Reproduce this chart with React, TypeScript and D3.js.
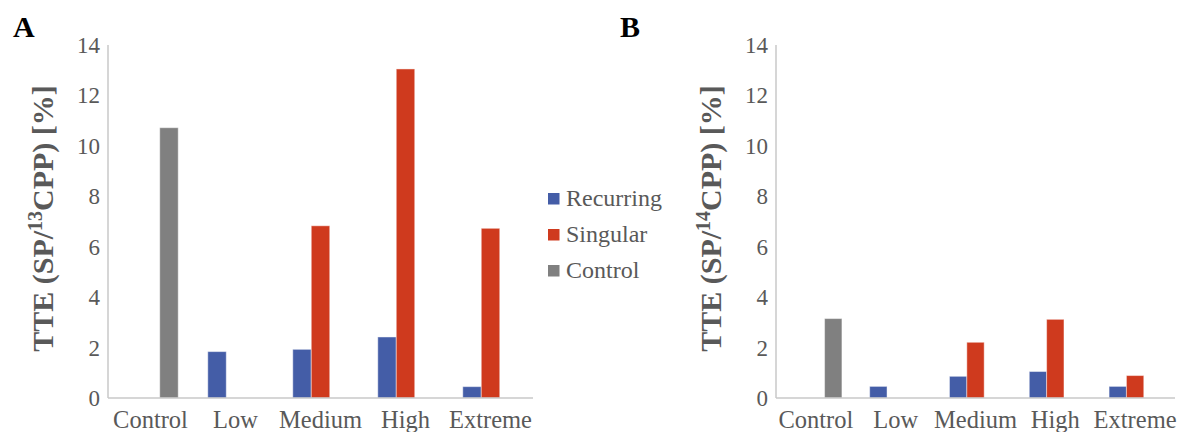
import React, { useEffect, useState } from "react";
import * as d3 from "d3";

// Treatment groups along the x axis
const categories = ["Control", "Low", "Medium", "High", "Extreme"];
const seriesNames = ["Recurring", "Singular", "Control"];
const seriesColors = ["#445DA7", "#CF3A1E", "#808080"];
const yTicks = [0, 2, 4, 6, 8, 10, 12, 14];

// Panel A: TTE (SP/13CPP) [%]
const recurringA: (number | null)[] = [null, 1.84, 1.93, 2.42, 0.45];
const singularA: (number | null)[] = [null, null, 6.83, 13.05, 6.73];
const controlA: (number | null)[] = [10.72, null, null, null, null];

// Panel B: TTE (SP/14CPP) [%]
const recurringB: (number | null)[] = [null, 0.46, 0.86, 1.05, 0.46];
const singularB: (number | null)[] = [null, null, 2.21, 3.12, 0.89];
const controlB: (number | null)[] = [3.15, null, null, null, null];

const TEXT = "#595959";
const AXIS = "#C9C9C9";
const serif = { fontFamily: "Liberation Serif" };

type PanelProps = {
  letter: string;
  letterX: number;
  x0: number;
  x1: number;
  iso: string;
  values: (number | null)[][];
};

function Panel({ letter, letterX, x0, x1, iso, values }: PanelProps) {
  const y = d3.scaleLinear().domain([0, 14]).range([398, 45]);
  const x = d3.scaleBand<string>().domain(categories).range([x0, x1]).padding(0);
  const inner = d3
    .scaleBand<string>()
    .domain(seriesNames)
    .range([0, x.bandwidth()])
    .paddingInner(0)
    .paddingOuter(0.8);

  return (
    <g>
      <text x={letterX} y={37} style={serif} fontWeight="bold" fontSize={30} fill="#000">
        {letter}
      </text>
      {/* y axis */}
      <line x1={x0} x2={x0} y1={y(14)} y2={y(0)} stroke={AXIS} strokeWidth={1.5} />
      {yTicks.map((t) => (
        <text key={t} x={x0 - 8} y={y(t) + 8} textAnchor="end" style={serif} fontSize={23} fill={TEXT}>
          {t}
        </text>
      ))}
      {/* axis title */}
      <text
        transform={`translate(${x0 - 55},${y(7) - 3}) rotate(-90)`}
        textAnchor="middle"
        style={serif}
        fontWeight="bold"
        fontSize={30}
        fill={TEXT}
      >
        TTE (SP/
        <tspan fontSize={20} dy={-11}>
          {iso}
        </tspan>
        <tspan dy={11}>CPP) [%]</tspan>
      </text>
      {/* bars */}
      {values.map((vals, si) =>
        vals.map((v, ci) =>
          v == null ? null : (
            <rect
              key={`${si}-${ci}`}
              x={(x(categories[ci]) as number) + (inner(seriesNames[si]) as number)}
              y={y(v)}
              width={inner.bandwidth()}
              height={y(0) - y(v)}
              fill={seriesColors[si]}
              stroke="#fff"
              strokeOpacity={0.45}
              strokeWidth={1}
            />
          )
        )
      )}
      {/* x axis */}
      <line x1={x0} x2={x1} y1={y(0)} y2={y(0)} stroke={AXIS} strokeWidth={1.5} />
      {categories.map((c) => (
        <text
          key={c}
          x={(x(c) as number) + x.bandwidth() / 2}
          y={428}
          textAnchor="middle"
          style={serif}
          fontSize={24.5}
          fill={TEXT}
        >
          {c}
        </text>
      ))}
    </g>
  );
}

export default function App() {
  // Re-mount the chart once the serif faces are loaded so text is laid out with them
  const [fontKey, setFontKey] = useState(0);
  useEffect(() => {
    const fonts = (document as any).fonts;
    if (!fonts || !fonts.load) return;
    Promise.all([
      fonts.load('24px "Liberation Serif"'),
      fonts.load('bold 30px "Liberation Serif"'),
    ])
      .then(() => setFontKey(1))
      .catch(() => {});
  }, []);

  return (
    <svg
      key={fontKey}
      width={1183}
      height={432}
      style={{ position: "absolute", left: 0, top: 0, background: "#fff", fontFamily: "Liberation Serif" }}
    >
      <Panel
        letter="A"
        letterX={13}
        x0={108}
        x1={533}
        iso="13"
        values={[recurringA, singularA, controlA]}
      />
      <Panel
        letter="B"
        letterX={620}
        x0={776}
        x1={1175}
        iso="14"
        values={[recurringB, singularB, controlB]}
      />
      {/* legend */}
      {seriesNames.map((s, i) => (
        <g key={s} transform={`translate(548,${193 + i * 36})`}>
          <rect width={11.5} height={11.5} fill={seriesColors[i]} />
          <text x={18} y={13} style={serif} fontSize={24} fill={TEXT}>
            {s}
          </text>
        </g>
      ))}
    </svg>
  );
}
